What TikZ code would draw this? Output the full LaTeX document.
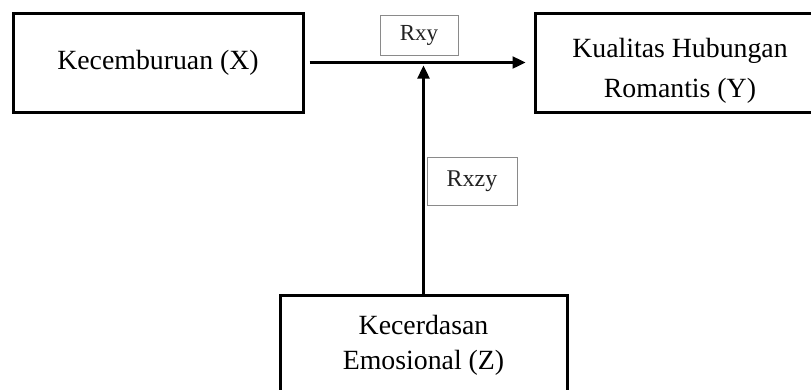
\documentclass[tikz,border=0pt]{standalone}
\usepackage{fontspec}
\setmainfont{Liberation Serif}
\usetikzlibrary{arrows.meta,positioning}
\definecolor{labelgray}{HTML}{8A8A8A}
\definecolor{inkgray}{HTML}{222222}

\begin{document}
\begin{tikzpicture}[x=1pt,y=-1pt,
  varbox/.style={rectangle,draw=black,line width=3pt,minimum width=290pt,align=center,inner sep=2pt,font=\fontsize{27.8}{40}\selectfont},
  rbox/.style={rectangle,draw=labelgray,line width=1pt,inner sep=0pt,text=inkgray},
  link/.style={-{Triangle[length=13pt,width=12pt]},line width=2.4pt}]
\useasboundingbox (0,0) rectangle (811,389);
\clip (0,0) rectangle (811,389);
\node[varbox,minimum height=99pt] (x) at (158,62.5) {Kecemburuan (X)};
\node[varbox,minimum height=99pt] (y) at (680,62.5) {\rule{0pt}{36pt}Kualitas Hubungan\\Romantis (Y)};
\node[varbox,minimum width=287pt,minimum height=100pt,font=\fontsize{27.8}{35}\selectfont] (z) at (423.5,345) {Kecerdasan\\Emosional (Z)};
\node[rbox,minimum width=78pt,minimum height=40pt,font=\fontsize{23}{28}\selectfont] (rxy) at (419,35) {Rxy};
\node[rbox,minimum width=90pt,minimum height=48pt,font=\fontsize{24}{28}\selectfont] (rxzy) at (472,181) {Rxzy};
\draw[link,shorten <=5pt,shorten >=8pt] (x.east) -- (y.west);
\coordinate (meet) at (z.north |- x.east);
\draw[link,shorten >=3pt] (z.north) -- (meet);
\end{tikzpicture}
\end{document}
